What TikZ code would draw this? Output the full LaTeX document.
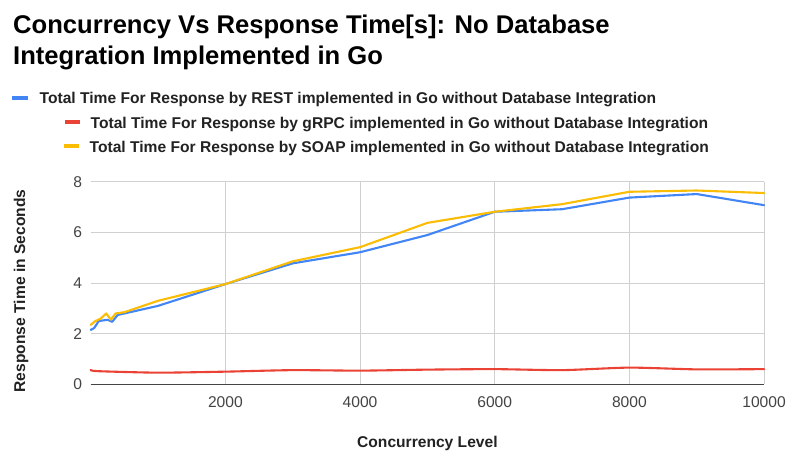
\documentclass[tikz,border=0pt]{standalone}
\usepackage{fontspec}
\setmainfont{Liberation Sans}
\definecolor{restblue}{HTML}{4285F4}
\definecolor{grpcred}{HTML}{EA4335}
\definecolor{soapyellow}{HTML}{FBBC04}
\definecolor{gridgray}{HTML}{D0D0D0}
\definecolor{axisgray}{HTML}{444444}
\definecolor{inkdark}{HTML}{222222}
\tikzset{
  titletext/.style={anchor=base west, inner sep=0pt, text=black, font=\fontsize{25.6}{30}\selectfont\bfseries},
  legendtext/.style={anchor=base west, inner sep=0pt, text=inkdark, font=\fontsize{15.6}{18}\selectfont\bfseries},
  swatch/.style={line width=4pt},
  ticklabel/.style={inner sep=0pt, text=axisgray, font=\fontsize{15.6}{18}\selectfont},
  axistitle/.style={inner sep=0pt, text=inkdark, font=\fontsize{15.6}{18}\selectfont\bfseries},
  gridline/.style={draw=gridgray, line width=1pt},
  series/.style={line width=2.1pt, line join=round, line cap=round},
}
\begin{document}
\begin{tikzpicture}[x=1pt,y=-1pt]
\useasboundingbox (0,0) rectangle (787,450);
\fill[white] (0,0) rectangle (787,450);

% title
\node[titletext] (title1) at (13,33.3) {Concurrency Vs Response Time[s]: No Database};
\node[titletext] (title2) at (13,64.3) {Integration Implemented in Go};

% legend
\draw[swatch, restblue] (12,98) -- (28,98);
\node[legendtext] (leg1) at (39.5,103) {Total Time For Response by REST implemented in Go without Database Integration};
\draw[swatch, grpcred] (65,121.5) -- (80,121.5);
\node[legendtext] (leg2) at (90.5,128) {Total Time For Response by gRPC implemented in Go without Database Integration};
\draw[swatch, soapyellow] (64,146) -- (79,146);
\node[legendtext] (leg3) at (89.5,152) {Total Time For Response by SOAP implemented in Go without Database Integration};

% axis titles
\node[axistitle, rotate=90] (ytitle) at (21,291) {Response Time in Seconds};
\node[axistitle, anchor=base] (xtitle) at (427.4,447) {Concurrency Level};

% plot area: concurrency 0..10000, seconds 0..8
\begin{scope}[shift={(90.7,384.3)}, x=0.06733pt, y=25.3pt]
  \foreach \v in {2,4,6,8} {
    \draw[gridline] (0,\v) -- (10000,\v);
    \node[ticklabel, anchor=east] (yt\v) at ([xshift=-8.5pt]0,\v) {\v};
  }
  \node[ticklabel, anchor=east] (yt0) at ([xshift=-8.5pt]0,0) {0};
  \foreach \c in {2000,4000,6000,8000,10000} {
    \draw[gridline] (\c,0) -- (\c,8);
    \node[ticklabel] (xt\c) at ([yshift=-18pt]\c,0) {\c};
  }
  \draw[axisgray, line width=1.3pt] (0,0) -- (10000,0);

  % REST
  \draw[series, restblue] plot coordinates {
    (0,2.15) (50,2.22) (120,2.5) (250,2.55) (320,2.47) (400,2.74) (500,2.8)
    (1000,3.1) (2000,3.96) (3000,4.78) (4000,5.22) (5000,5.9) (6000,6.82)
    (7000,6.92) (8000,7.38) (9000,7.52) (10000,7.08)};
  % gRPC
  \draw[series, grpcred] plot[smooth, tension=0.4] coordinates {
    (0,0.57) (100,0.52) (1000,0.46) (2000,0.5) (3000,0.56) (4000,0.54)
    (5000,0.58) (6000,0.6) (7000,0.56) (8000,0.66) (9000,0.59) (10000,0.6)};
  % SOAP
  \draw[series, soapyellow] plot coordinates {
    (0,2.35) (70,2.5) (150,2.6) (230,2.8) (300,2.56) (370,2.8) (500,2.85)
    (1000,3.3) (2000,3.96) (3000,4.86) (4000,5.42) (5000,6.38) (6000,6.82)
    (7000,7.12) (8000,7.61) (9000,7.66) (10000,7.56)};
\end{scope}
\end{tikzpicture}
\end{document}
